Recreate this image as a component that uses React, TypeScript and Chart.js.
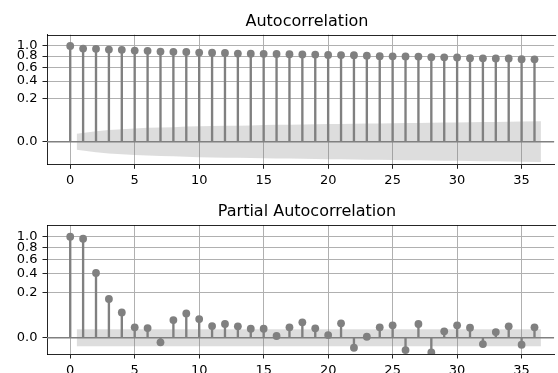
import React, { useEffect, useRef } from "react";
import { Chart, registerables, LinearScale } from "chart.js";

Chart.register(...registerables);

// ---------------- data ----------------
const lags = [0, 1, 2, 3, 4, 5, 6, 7, 8, 9, 10, 11, 12, 13, 14, 15, 16, 17, 18, 19, 20, 21, 22, 23, 24, 25, 26, 27, 28, 29, 30, 31, 32, 33, 34, 35, 36];

const acfValues = [
  1.0, 0.945, 0.94, 0.925, 0.92, 0.905, 0.9, 0.885, 0.88, 0.878,
  0.865, 0.862, 0.858, 0.847, 0.845, 0.842, 0.84, 0.833, 0.83, 0.828,
  0.82, 0.818, 0.815, 0.806, 0.797, 0.795, 0.793, 0.79, 0.778, 0.776,
  0.774, 0.76, 0.758, 0.756, 0.754, 0.742, 0.74,
];

// half-width of the ACF confidence band for lags 1..36
const acfConfBand = [
  0.007, 0.012, 0.015, 0.017, 0.019, 0.021, 0.022, 0.023, 0.025, 0.026,
  0.027, 0.028, 0.028, 0.029, 0.03, 0.031, 0.031, 0.032, 0.033, 0.034,
  0.034, 0.035, 0.036, 0.036, 0.037, 0.038, 0.038, 0.039, 0.04, 0.04,
  0.041, 0.042, 0.042, 0.043, 0.044, 0.045,
];

const pacfValues = [
  1.0, 0.961, 0.411, 0.147, 0.063, 0.0106, 0.0092, -0.0021, 0.0307, 0.058,
  0.0343, 0.0134, 0.0185, 0.0128, 0.0079, 0.0079, 0.0003, 0.0106, 0.0232, 0.0087,
  0.0007, 0.0203, -0.0098, 0.0001, 0.0106, 0.015, -0.0148, 0.0185, -0.021, 0.004,
  0.015, 0.0098, -0.0039, 0.0032, 0.0128, -0.0048, 0.0106,
];

// PACF confidence band half-width (constant for all lags)
const pacfConfLevel = 0.0072;

const xTickValues = [0, 5, 10, 15, 20, 25, 30, 35];
const yTickValues = [0, 0.2, 0.4, 0.6, 0.8, 1.0];

// ---------------- sqrt scale ----------------
const fwd = (v: number) => Math.sign(v) * Math.sqrt(Math.abs(v));
const inv = (t: number) => Math.sign(t) * t * t;

class SqrtScale extends LinearScale {
  static id = "sqrt";
  static defaults = (LinearScale as any).defaults;
  getPixelForValue(value: number) {
    if (value === null || value === undefined || isNaN(value)) return NaN;
    const a = fwd((this as any).min);
    const b = fwd((this as any).max);
    return this.getPixelForDecimal((fwd(value) - a) / (b - a));
  }
  getValueForPixel(pixel: number) {
    const a = fwd((this as any).min);
    const b = fwd((this as any).max);
    return inv(a + this.getDecimalForPixel(pixel) * (b - a));
  }
}
Chart.register(SqrtScale as any);

const FONT = "'DejaVu Sans', sans-serif";
const GRAY = "#808080";
const X_MIN = -1.8;
const X_MAX = 37.52;

type PanelProps = {
  title: string;
  values: number[];
  band: number[];
  yMin: number;
  yMax: number;
  top: number;
  height: number;
  padTop: number;
  axisHeight: number;
};

function Panel(p: PanelProps) {
  const ref = useRef<HTMLCanvasElement | null>(null);
  useEffect(() => {
    const canvas = ref.current!;
    const bandLags = lags.slice(1).map((l, i, arr) =>
      i === 0 ? l - 0.5 : i === arr.length - 1 ? l + 0.5 : l
    );
    const upper = bandLags.map((x, i) => ({ x, y: p.band[i] }));
    const lower = bandLags.map((x, i) => ({ x, y: -p.band[i] }));
    const pts = lags.map((x, i) => ({ x, y: p.values[i] }));

    const framePlugin = {
      id: "frameTitle",
      afterDraw(chart: any) {
        const { ctx, chartArea } = chart;
        ctx.save();
        ctx.strokeStyle = "rgba(0,0,0,0.85)";
        ctx.lineWidth = 1;
        ctx.beginPath();
        ctx.moveTo(chartArea.left, Math.round(chartArea.top) + 0.5);
        ctx.lineTo(chartArea.right + 2, Math.round(chartArea.top) + 0.5);
        ctx.stroke();
        ctx.fillStyle = "#000";
        ctx.font = `16px ${FONT}`;
        ctx.textAlign = "center";
        ctx.textBaseline = "alphabetic";
        ctx.fillText(p.title, 307, chartArea.top - 9);
        ctx.restore();
      },
    };

    const gridCfg = {
      color: "rgb(176,176,176)",
      lineWidth: 1,
      tickLength: 4.5,
      tickColor: "#222",
      tickWidth: 1,
      offset: false,
    };

    const chart = new Chart(canvas, {
      type: "bar",
      data: {
        datasets: [
          {
            type: "line",
            data: pts,
            showLine: false,
            pointRadius: 3.9,
            pointHoverRadius: 3.9,
            pointBackgroundColor: GRAY,
            pointBorderWidth: 0,
            order: 0,
          } as any,
          {
            type: "bar",
            data: pts,
            backgroundColor: GRAY,
            barThickness: 1.7,
            grouped: false,
            order: 1,
          } as any,
          {
            type: "line",
            data: [
              { x: X_MIN, y: 0 },
              { x: X_MAX + 1, y: 0 },
            ],
            borderColor: GRAY,
            borderWidth: 1.6,
            pointRadius: 0,
            order: 2,
          } as any,
          {
            type: "line",
            data: upper,
            borderWidth: 0,
            pointRadius: 0,
            fill: "+1",
            backgroundColor: "rgba(128,128,128,0.27)",
            order: 3,
          } as any,
          {
            type: "line",
            data: lower,
            borderWidth: 0,
            pointRadius: 0,
            fill: false,
            order: 4,
          } as any,
        ],
      },
      options: {
        animation: false,
        responsive: false,
        events: [],
        layout: { padding: { top: p.padTop, left: 0, right: 0, bottom: 0 } },
        plugins: { legend: { display: false }, tooltip: { enabled: false }, title: { display: false } },
        scales: {
          x: {
            type: "linear",
            min: X_MIN,
            max: X_MAX,
            offset: false,
            afterBuildTicks: (s: any) => {
              s.ticks = xTickValues.map((v) => ({ value: v }));
            },
            afterFit: (s: any) => {
              s.height = p.axisHeight;
            },
            ticks: {
              autoSkip: false,
              maxRotation: 0,
              padding: 4.5,
              color: "#000",
              font: { family: FONT, size: 13 },
              callback: (v: any) => String(v),
            },
            grid: gridCfg,
            border: { display: true, color: "rgba(0,0,0,0.85)", width: 1 },
          },
          y: {
            type: "sqrt" as any,
            min: p.yMin,
            max: p.yMax,
            afterBuildTicks: (s: any) => {
              s.ticks = yTickValues.map((v) => ({ value: v }));
            },
            afterFit: (s: any) => {
              s.width = 47;
            },
            ticks: {
              autoSkip: false,
              padding: 5,
              color: "#000",
              font: { family: FONT, size: 13 },
              callback: (v: any) => Number(v).toFixed(1),
            },
            grid: gridCfg,
            border: { display: true, color: "rgba(0,0,0,0.85)", width: 1 },
          },
        },
      } as any,
      plugins: [framePlugin],
    });
    return () => chart.destroy();
  }, []);
  return (
    <canvas
      ref={ref}
      width={558}
      height={p.height}
      style={{ position: "absolute", left: 0, top: p.top, width: 558, height: p.height }}
    />
  );
}

export default function App() {
  const pacfBand = lags.slice(1).map(() => pacfConfLevel);
  return (
    <div
      style={{
        position: "fixed",
        left: 0,
        top: 0,
        width: 558,
        height: 373,
        overflow: "hidden",
        background: "#fff",
      }}
    >
      <Panel
        title="Autocorrelation"
        values={acfValues}
        band={acfConfBand}
        yMin={-0.0557}
        yMax={1.2477}
        top={0}
        height={187}
        padTop={34.7}
        axisHeight={22.7}
      />
      <Panel
        title="Partial Autocorrelation"
        values={pacfValues}
        band={pacfBand}
        yMin={-0.0259}
        yMax={1.246}
        top={187}
        height={186}
        padTop={38}
        axisHeight={19}
      />
    </div>
  );
}
